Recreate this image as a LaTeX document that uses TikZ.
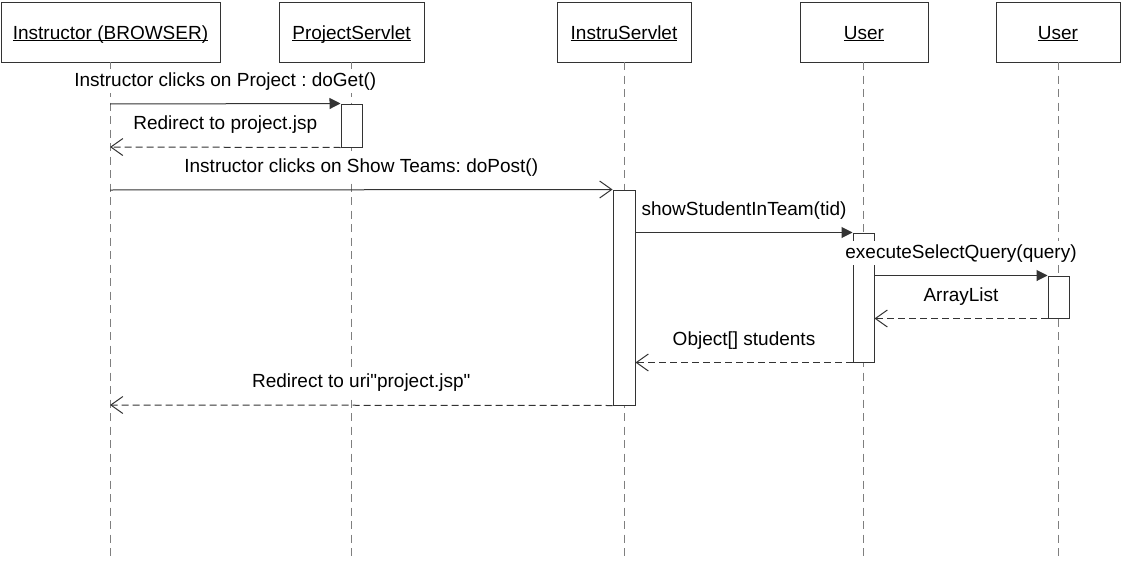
\documentclass[tikz,border=0pt]{standalone}
\usepackage{fontspec}
\setmainfont{Liberation Sans}
% same face without the TeX quote mapping, for straight double quotes
\newfontfamily\straightq{Liberation Sans}
\usetikzlibrary{arrows.meta}
\frenchspacing
\definecolor{ink}{HTML}{333333}
\definecolor{lifegray}{HTML}{7F7F7F}
% underline sitting just below the baseline
\newcommand{\headul}[1]{\setbox0\hbox{#1}\rlap{\rule[-1.8pt]{\wd0}{0.9pt}}\box0}
\newcommand{\dq}{{\straightq\symbol{34}}}
\tikzset{
  head/.style={draw=ink, line width=1pt, minimum width=#1, minimum height=60pt,
    inner sep=0pt, text height=14pt, text depth=0pt},
  activ/.style={draw=ink, fill=white, line width=1pt, minimum width=21pt, inner sep=0pt},
  lifeline/.style={draw=lifegray, line width=1pt, dash pattern=on 8pt off 5.5pt},
  callmsg/.style={draw=ink, line width=1pt, -{Triangle[length=11pt,width=11pt]}},
  sendmsg/.style={draw=ink, line width=1pt, -{Straight Barb[length=12pt,width=17pt]}},
  replymsg/.style={draw=ink, line width=1pt, dash pattern=on 7pt off 4pt,
    -{Straight Barb[length=12pt,width=17pt]}},
  msglabel/.style={fill=white, inner xsep=2pt, inner ysep=2pt, text height=15pt,
    text depth=4.5pt, anchor=base, midway, yshift=17.5pt, text=black}
}
\begin{document}
\begin{tikzpicture}[x=1pt, y=-1pt, font=\fontsize{19pt}{23pt}\selectfont\frenchspacing]
\useasboundingbox (0,0) rectangle (1121,562);

% object heads
\node[head=219pt] (inst)   at (110.5,32) {\headul{Instructor (BROWSER)}};
\node[head=145pt] (proj)   at (351.5,32) {\headul{ProjectServlet}};
\node[head=134pt] (instru) at (624,32)   {\headul{InstruServlet}};
\node[head=128pt] (usera)  at (864,32)   {\headul{User}};
\node[head=124pt] (userb)  at (1058,32)  {\headul{User}};

% lifelines
\draw[lifeline] (110,62)  -- (110,557);
\draw[lifeline] (351,62)  -- (351,557);
\draw[lifeline] (624,62)  -- (624,557);
\draw[lifeline] (863,62)  -- (863,557);
\draw[lifeline] (1058,62) -- (1058,557);

% activation bars
\node[activ, minimum height=43pt]  (a1) at (351.5,125.5) {};
\node[activ, minimum width=22pt, minimum height=215pt] (a2) at (624,297.5) {};
\node[activ, minimum height=129pt] (a3) at (863.5,297.5) {};
\node[activ, minimum height=42pt]  (a4) at (1058.5,297) {};

% free ends on the browser lifeline
\coordinate (c1) at (110,104);
\coordinate (c2) at (110,147);
\coordinate (c3) at (110,190);
\coordinate (c8) at (110,405);

% messages
\draw[callmsg] (c1) -- (a1.north west)
  node[msglabel] (t1) {Instructor clicks on Project : doGet()};
\draw[replymsg] (a1.south west) -- (c2)
  node[msglabel] (t2) {Redirect to project.jsp};
\draw[sendmsg] (c3) -- (a2.north west)
  node[msglabel] (t3) {Instructor clicks on Show Teams: doPost()};
\draw[callmsg] (a2.east |- a3.north) -- (a3.north west)
  node[msglabel] (t4) {showStudentInTeam(tid)};
\draw[callmsg] (a3.east |- a4.north) -- (a4.north west)
  node[msglabel] (t5) {executeSelectQuery(query)};
\draw[replymsg] (a4.south west) -- (a3.east |- a4.south)
  node[msglabel] (t6) {ArrayList};
\draw[replymsg] (a3.south west) -- (a2.east |- a3.south)
  node[msglabel] (t7) {Object[] students};
\draw[replymsg] (a2.south west) -- (c8)
  node[msglabel] (t8) {Redirect to uri\dq project.jsp\dq};
\end{tikzpicture}
\end{document}
